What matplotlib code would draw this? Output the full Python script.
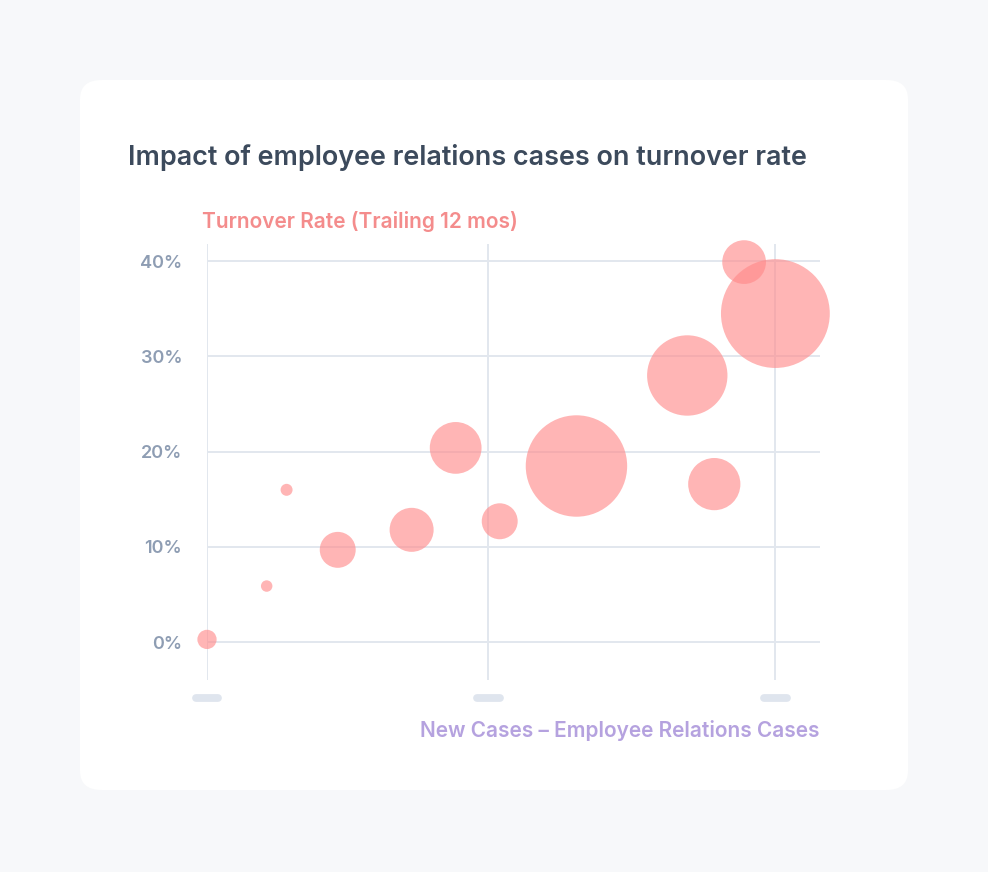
import numpy as np
import matplotlib.pyplot as plt
from matplotlib.patches import FancyBboxPatch

# bubble data
new_cases = [0, 2.1, 2.8, 4.6, 7.2, 8.75, 10.3, 13.0, 16.9, 17.85, 18.9, 20.0]
turnover = [0.3, 5.9, 16.0, 9.7, 11.8, 20.4, 12.7, 18.5, 28.0, 16.6, 39.9, 34.5]
case_volume = [3.1, 1.1, 1.2, 10.8, 16.2, 22.4, 10.8, 86, 54, 22.8, 16, 99]

y_ticks = [0, 10, 20, 30, 40]
y_labels = ['0%', '10%', '20%', '30%', '40%']
x_ticks = [0, 9.9, 20]

W, H = 988, 872
plt.rcParams['font.family'] = ['Inter', 'DejaVu Sans']

fig = plt.figure(figsize=(W / 100, H / 100), dpi=100)
fig.patch.set_facecolor('#f7f8fa')


def fx(px):
    return px / W


def fy(py):
    return 1 - py / H


card = FancyBboxPatch((fx(80), fy(790)), fx(828), (790 - 80) / H,
                      boxstyle='round,pad=0,rounding_size=0.022',
                      transform=fig.transFigure, facecolor='white',
                      edgecolor='none', zorder=-10)
fig.patches.append(card)

# axes spans px 207..820 horizontally, 244..680 vertically
ax = fig.add_axes([fx(207), fy(680), fx(820 - 207), (680 - 244) / H])
ax.set_facecolor('none')
ax.set_xlim(0, 21.57)
ax.set_ylim(-3.96, 41.8)

sizes = np.array(case_volume) * 62
ax.scatter(new_cases, turnover, s=sizes, color='#ff8a8a', alpha=0.63,
           edgecolors='none', clip_on=False, zorder=3)

ax.set_yticks(y_ticks)
ax.set_yticklabels(y_labels)
ax.set_xticks(x_ticks)
ax.set_xticklabels([])
ax.tick_params(axis='both', length=0)
ax.tick_params(axis='y', pad=18, labelsize=13, labelcolor='#8e9db3')
for lab in ax.get_yticklabels():
    lab.set_fontweight('semibold')
ax.grid(True, color='#e2e7ee', linewidth=1.4)
ax.set_axisbelow(True)
for sp in ax.spines.values():
    sp.set_visible(False)

# placeholder pills under the x ticks
for xt in x_ticks:
    ax.plot([xt - 0.4, xt + 0.4], [-5.8, -5.8], color='#dfe5ee', linewidth=5.6,
            solid_capstyle='round', clip_on=False)

fig.text(fx(128), fy(165), 'Impact of employee relations cases on turnover rate',
         fontsize=19.4, fontweight='semibold', color='#3c4a5c', va='baseline')
fig.text(fx(202), fy(228), 'Turnover Rate (Trailing 12 mos)',
         fontsize=15, fontweight='semibold', color='#f48c8c', va='baseline')
fig.text(fx(820), fy(737), 'New Cases \u2013 Employee Relations Cases',
         fontsize=15, fontweight='semibold', color='#b5a2df', va='baseline', ha='right')

fig.savefig('out.png', dpi=100, facecolor=fig.get_facecolor())
